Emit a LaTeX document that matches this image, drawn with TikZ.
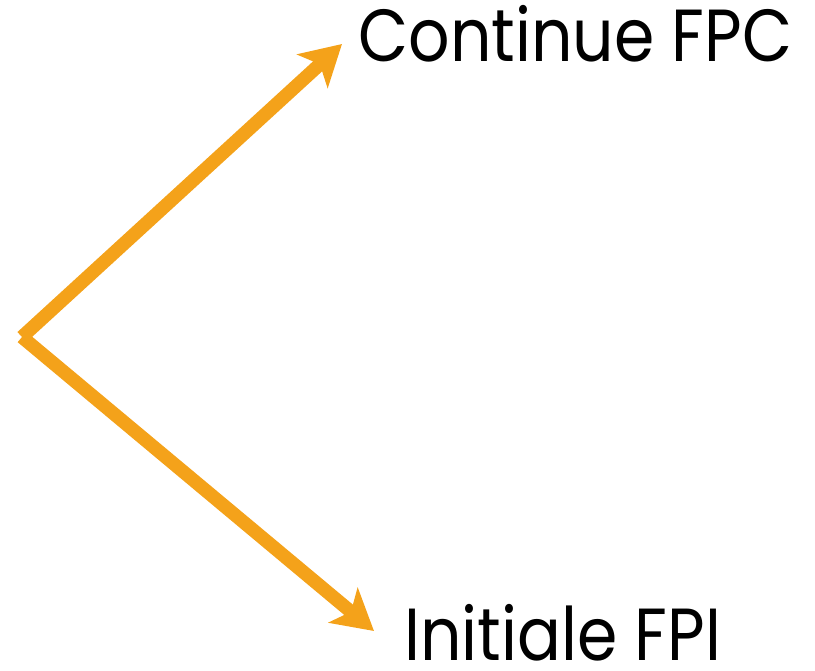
\documentclass[tikz,border=0pt]{standalone}
\usepackage{fontspec}
\setmainfont{Poppins}
\usepackage{xcolor}
\usetikzlibrary{arrows.meta,positioning}
\definecolor{fpcorange}{RGB}{244,162,26}
\begin{document}
\begin{tikzpicture}[x=0.02cm,y=-0.02cm,
    arrowline/.style={draw=fpcorange, line width=0.27cm, line cap=butt,
      -{Stealth[length=0.8cm,width=0.9cm,inset=0.2cm]}},
    label/.style={anchor=base west, inner sep=0pt, xscale=0.88, font=\fontsize{42}{48}\selectfont}]
    \useasboundingbox (0,0) rectangle (815,670);
    \coordinate (origin) at (22,337);
    \coordinate (upper) at (342,44);
    \coordinate (lower) at (374,631);
    \draw[arrowline] (origin) -- (upper);
    \draw[arrowline] (origin) -- (lower);
    \node[label] (fpc) at (358,61) {Continue FPC};
    \node[label] (fpi) at (404,660) {Initiale FPI};
\end{tikzpicture}
\end{document}
